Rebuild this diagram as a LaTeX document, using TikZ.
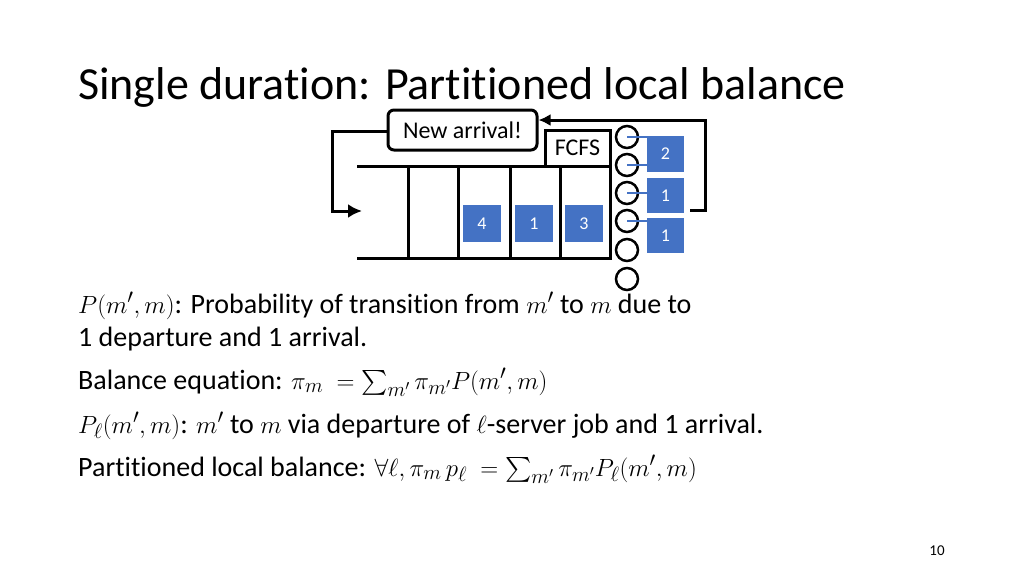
\documentclass[tikz,border=0pt]{standalone}
\usepackage{amsmath}
\usepackage{fontspec}
\usetikzlibrary{arrows.meta}
\setmainfont[RawFeature=-liga]{Carlito}
\begin{document}
\begin{tikzpicture}[x=1pt,y=-1pt,
  ln/.style={line width=3pt,black},
  job/.style={draw=none,text=white,font=\fontsize{18}{18}\selectfont,inner sep=0},
  srv/.style={circle,draw,line width=2.5pt,minimum size=22pt,inner sep=0},
  txt/.style={anchor=base west,inner sep=0,font=\fontsize{28}{32}\selectfont}]
\definecolor{jobc}{RGB}{68,114,196}
\tikzset{job/.append style={fill=jobc}}
\useasboundingbox (0,0) rectangle (1024,576);
\node[anchor=base west,inner sep=0,font=\fontsize{46}{50}\selectfont] (title) at (78,99) {Single duration: Partitioned local balance};
% queue
\draw[ln] (357,166) -- (610,166) -- (610,258) -- (357,258);
\foreach \x/\n in {408/a,458/b,510/c,560/d}{\draw[ln] (\x,166) -- (\x,258);}
\node[draw,line width=3pt,minimum width=65pt,minimum height=36pt,inner sep=0,font=\fontsize{24}{24}\selectfont] (fcfs) at (577.5,148) {FCFS};
\foreach \x/\l/\n in {482/4/q4,534/1/q1,584/3/q3}{
  \node[job,minimum width=38pt,minimum height=37pt] (\n) at (\x,223.5) {\l};}
% servers and jobs
\foreach \y/\n in {137/s1,165/s2,193/s3,221/s4,250/s5,279/s6}{\node[srv] (\n) at (627,\y) {};}
\node[job,minimum width=37pt,minimum height=36pt] (j2) at (665.5,154) {2};
\node[job,minimum width=37pt,minimum height=35pt] (j1) at (665.5,195.5) {1};
\node[job,minimum width=37pt,minimum height=35pt] (j1b) at (665.5,235.5) {1};
\draw[jobc,line width=2pt] (s1.center) -- (j2.west|-s1.center);
\draw[jobc,line width=2pt] (s2.center) -- (j2.west|-s2.center);
\draw[jobc,line width=2pt] (s3.center) -- (j1.west|-s3.center);
\draw[jobc,line width=2pt] (s4.center) -- (j1b.west|-s4.center);
% new arrival
\node[draw,line width=3pt,rounded corners=6pt,minimum width=149pt,minimum height=40pt,inner sep=0,font=\fontsize{24}{24}\selectfont,fill=white] (na) at (462.5,130) {New arrival!};
\coordinate (r0) at (690,210);
\coordinate (l1) at (362,211);
\draw[ln,-{Latex[length=12pt,width=12pt]}] (r0) -- (705,210) -- (705,120) -- (na.east|-0,120);
\draw[ln,-{Latex[length=14pt,width=14pt]}] (na.west|-0,131) -- (332,131) -- (332,211) -- (l1);
% text
\node[txt] (t1) at (78,313) {$P(m',m)$: Probability of transition from $m'$ to $m$ due to};
\node[txt] (t2) at (78,346) {1 departure and 1 arrival.};
\node[txt] (t3) at (78,389) {Balance equation: $\pi_m\ =\sum_{m'}\pi_{m'}P(m',m)$};
\node[txt] (t4) at (78,433) {$P_\ell(m',m)$: $m'$ to $m$ via departure of $\ell$-server job and 1 arrival.};
\node[txt] (t5) at (78,476) {Partitioned local balance: $\forall\ell,\pi_m\,p_\ell\ =\sum_{m'}\pi_{m'}P_\ell(m',m)$};
\node[anchor=base,inner sep=0,font=\fontsize{15}{15}\selectfont] (pg) at (937,555) {10};
\end{tikzpicture}
\end{document}
